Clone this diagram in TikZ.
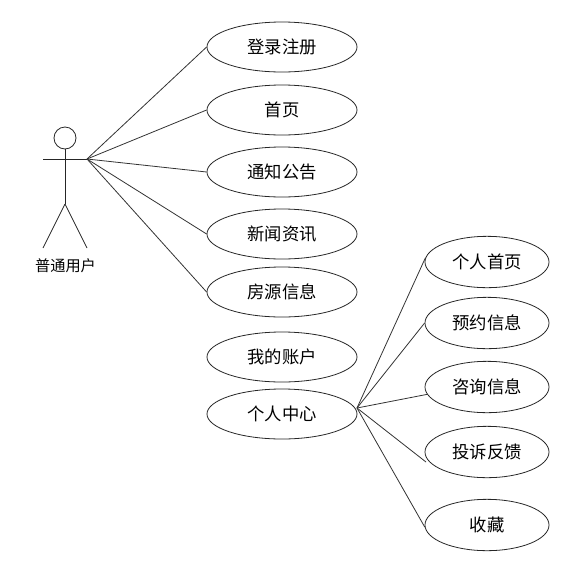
\documentclass[tikz,border=0pt]{standalone}
\usepackage{fontspec}
\newfontfamily\cjk{Noto Sans CJK SC}
\usetikzlibrary{
  positioning,
  shapes.geometric
}

\begin{document}
\begin{tikzpicture}[
    x=0.75pt, y=-0.75pt,
    uc/.style={ellipse, draw=black!85, line width=0.6pt, minimum width=112.5pt, minimum height=37.5pt, inner sep=0pt, font=\cjk\fontsize{13}{15}\selectfont},
    subuc/.style={uc, minimum width=93pt, minimum height=38.5pt},
    lbl/.style={font=\cjk\fontsize{11.4}{13}\selectfont, inner sep=0pt},
    ed/.style={-, black!80, line width=0.6pt},
    fig/.style={-, black!85, line width=0.6pt}
  ]
    \useasboundingbox (0,0) rectangle (572,565);
    % actor
    \node[circle, draw=black!85, line width=0.6pt, minimum size=16.5pt, inner sep=0pt] (head) at (65,138) {};
    \coordinate (waist) at (65,204);
    \coordinate (handL) at (43,159);
    \coordinate (handR) at (87,159);
    \coordinate (footL) at (43,248);
    \coordinate (footR) at (87,248);
    \draw[fig] (head)--(waist); \draw[fig] (handL)--(handR);
    \draw[fig] (waist)--(footL); \draw[fig] (waist)--(footR);
    \node[lbl] (user) at (65.5,266) {普通用户};
    % left column
    \node[uc] (login) at (282,47) {登录注册};
    \node[uc] (home) at (282,110) {首页};
    \node[uc] (notice) at (282,172) {通知公告};
    \node[uc] (news) at (282,234) {新闻资讯};
    \node[uc] (house) at (282,292) {房源信息};
    \node[uc] (acct) at (282,357) {我的账户};
    \node[uc] (center) at (282,414) {个人中心};
    \draw[ed] (handR)--(login.west); \draw[ed] (handR)--(home.west);
    \draw[ed] (handR)--(notice.west); \draw[ed] (handR)--(news.west);
    \draw[ed] (handR)--(house.west);
    % right column
    \node[subuc] (pHome) at (487,262) {个人首页};
    \node[subuc] (pBook) at (487,323) {预约信息};
    \node[subuc] (pAsk) at (487,387) {咨询信息};
    \node[subuc] (pFeed) at (487,452) {投诉反馈};
    \node[subuc] (pFav) at (487,525) {收藏};
    \coordinate (hub) at (357,408);
    \coordinate (feedEnd) at (426,462);
    \draw[ed] (hub)--(pHome.176); \draw[ed] (hub)--(pBook.west);
    \draw[ed] (hub)--(pAsk.187); \draw[ed] (hub)--(feedEnd);
    \draw[ed] (hub)--(pFav.182);
  \end{tikzpicture}
\end{document}
